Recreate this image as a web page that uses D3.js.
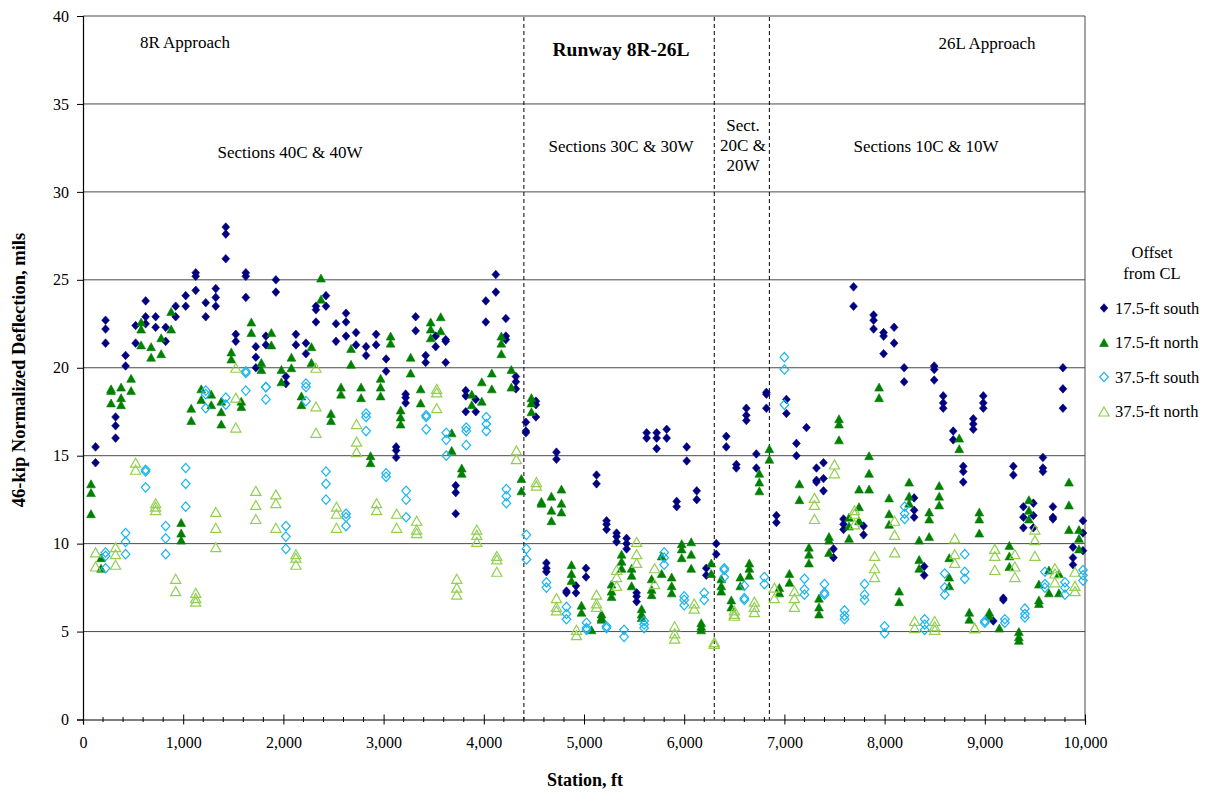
<!DOCTYPE html>
<html>
<head>
<meta charset="utf-8">
<script src="https://cdn.jsdelivr.net/npm/d3@7"></script>
<style>
  body { margin: 0; background: #fff; }
  svg text { font-family: "Liberation Serif", "Times New Roman", serif; fill: #000; }
</style>
</head>
<body>
<svg width="1209" height="792"></svg>
<script>
// 17.5-ft south (filled navy diamonds)
const s175Sta = [125,225,325,425,525,625,725,825,925,1025,1125,1225,1325,1425,1525,1625,1725,1825,1925,2025,
  2125,2225,2325,2425,2525,2625,2725,2825,2925,3025,3125,3220,3320,3420,3520,3620,3720,3820,3920,4020,
  4120,4220,4320,4420,4520,4625,4725,4825,4920,5020,5125,5225,5325,5425,5525,5625,5725,5825,5925,6025,
  6125,6220,6320,6420,6520,6620,6720,6820,6920,7020,7120,7220,7320,7390,7490,7590,7690,7790,7890,7990,
  8095,8195,8295,8395,8495,8585,8685,8785,8885,8985,9085,9185,9285,9385,9485,9580,9680,9780,9880,9980];
const s175Val = [[15.5,14.6],[22.7,22.2,21.4],[17.2,16.7,16.0],[20.7,20.1],[22.4,21.4],[23.8,22.9,22.5],[22.9,22.3],
  [22.3,21.5],[23.5,22.9],[24.1,23.5],[25.4,25.2,24.4],[23.7,22.9],[24.5,24.0,23.5],[28.0,27.6,26.2],[21.9,21.5],
  [25.4,25.2,24.0],[21.2,20.6,20.0],[21.8,21.3],[25.0,24.3],[19.5,19.1],[21.9,21.3],[21.4,20.8],[23.5,23.3,22.6],
  [24.1,23.5],[22.5,21.5],[23.1,22.6,21.8],[22.0,21.3],[21.2,20.7],[21.9,21.3],[20.5,19.8],[15.5,15.3,14.9],
  [18.5,18.3,18.0],[22.9,22.1],[20.7,20.3],[21.8,21.2],[21.6,21.5,20.3],[13.3,12.9,11.7],[18.7,18.4,17.5],
  [18.2,17.5],[23.8,22.6],[25.3,24.3],[22.8,21.8,21.6],[19.5,19.2,18.8],[16.9,16.4,16.3],[18.1,17.9,17.2],
  [8.9,8.6,8.4],[15.2,14.8],[7.3,7.2],[7.6,7.2],[8.6,8.1],[13.9,13.4],[11.3,11.1,10.8],[10.6,10.4,10.1],
  [10.3,10.0,9.7],[7.2,7.0,6.7],[16.3,16.0],[16.3,16.0,15.4],[16.5,16.0],[12.4,12.1],[15.5,14.7],[13.0,12.5],
  [8.6,8.2],[10.0,9.4],[16.1,15.5],[14.5,14.3],[17.7,17.3,17.0],[15.1,14.3],[18.6,18.5,17.7],[11.6,11.2],
  [18.2,17.4],[15.7,15.0],[16.6],[14.3,13.6,13.5],[14.6,13.7,13.0],[9.7,9.2],[11.4,11.1,10.8],[24.6,23.5],
  [11.0,10.5],[23.0,22.7,22.2],[22.0,21.8,20.8],[22.3,21.4],[20.0,19.2],[12.6,11.9,11.5],[8.7,8.2],
  [20.1,19.9,19.3],[18.4,18.0,17.7],[16.4,15.9],[14.4,14.1,13.5],[17.1,16.8,16.5],[18.4,18.0,17.7],[5.6],
  [6.9,6.8],[14.4,13.9],[12.1,11.5,10.9],[12.3,11.6,10.9],[14.9,14.3,14.1],[12.1,11.5,11.4],[20.0,18.8,17.7],
  [9.8,9.2,8.8],[11.3,10.6,9.6]];

// 17.5-ft north (filled green triangles)
const n175Sta = [80,180,280,380,480,580,680,780,880,980,1080,1180,1280,1380,1480,1580,1680,1780,1880,1980,
  2080,2180,2280,2375,2475,2575,2675,2775,2870,2970,3070,3170,3270,3370,3470,3570,3680,3780,3880,3980,
  4080,4175,4275,4375,4475,4575,4675,4775,4875,4975,5075,5175,5275,5375,5475,5575,5675,5775,5875,5975,
  6070,6170,6270,6370,6470,6560,6650,6750,6850,6950,7050,7150,7245,7345,7445,7545,7645,7745,7845,7945,
  8045,8145,8245,8345,8445,8545,8645,8745,8845,8945,9045,9145,9245,9340,9440,9540,9640,9740,9840,9940];
const n175Val = [[13.4,12.9,11.7],[9.2,8.6],[18.8,18.7,18.0],[18.9,18.3,17.9],[19.4,18.7],[22.6,22.2,21.3],
  [21.2,20.6],[21.7,20.8],[23.2,22.2],[11.2,10.6,10.2],[17.7,17.0],[18.8,18.2],[18.5,17.9],[18.1,17.5,16.8],
  [20.9,20.5],[18.1,17.8],[22.6,22.0],[20.3,19.9],[22.0,21.3],[19.9,19.2],[20.6,20.0],[18.4,17.9],[21.2,20.3],
  [25.1,23.9],[17.4,17.0],[18.9,18.5],[21.1,20.2],[18.9,18.3],[15.0,14.6],[19.4,18.9,18.4],[21.8,21.4],
  [17.6,17.2,16.8],[20.6,19.7],[18.8,18.0],[22.6,22.2,21.7],[22.9,22.1],[16.3,15.3],[14.3,14.0],[18.5,17.9],
  [19.2,18.1],[19.7,18.8],[21.8,21.4,20.8],[19.9,18.9],[13.7,13.0],[18.3,18.0,17.5],[12.4,12.3],
  [12.7,11.9,11.3],[13.1,12.3,11.8],[8.8,8.3,7.9],[6.5,6.1],[5.1],[6.0,5.8,5.7],[7.7,7.3,7.0],[9.4,9.0,8.6],
  [8.6,8.2,7.6],[6.3,6.0,5.8],[8.0,7.4,7.1],[9.3,8.3],[8.1,7.6,7.2],[10.0,9.7,9.2],[10.1,9.4,8.6],
  [5.5,5.3,5.1],[8.9,8.3],[8.0,7.6,7.3],[6.8,6.4],[8.1,7.6],[8.9,8.6,8.2],[14.0,13.5,13.0],[15.4,14.8],
  [7.5,7.2],[8.3,7.8],[13.4,12.5],[9.8,9.4,8.9],[6.9,6.4,6.0],[10.4,10.2,9.5],[17.1,16.8,15.9],
  [11.5,11.0,10.3],[13.1,12.1,11.3],[15.0,14.0,13.1],[18.9,18.3],[12.6,11.7,11.1],[7.3,6.7],[13.5,12.7,12.3],
  [10.2,9.1,8.6],[11.8,11.4,10.4],[13.3,12.7,12.2],[9.2,8.1,7.6],[16.0,15.4],[6.1,5.7],[11.8,11.4,10.6],
  [6.1,5.9],[5.2],[9.9,9.3,8.7],[5.0,4.7,4.5],[12.5,11.9,11.4],[7.7,6.8,6.6],[8.5,7.2],[8.3,7.2],
  [13.5,12.2,10.8],[10.8,10.3,9.7]];

// 37.5-ft south (open light blue diamonds)
const s375Sta = [225,425,625,825,1025,1225,1425,1625,1825,2025,2225,2425,2625,2825,3025,3225,3425,3625,3825,4025,
  4225,4425,4625,4825,5025,5225,5400,5600,5800,6000,6200,6400,6600,6800,7000,7200,7400,7600,7800,8000,
  8200,8400,8600,8800,9000,9200,9400,9600,9800,9980];
const s375Val = [[9.5,9.3,8.6],[10.6,10.1,9.4],[14.2,14.1,13.2],[11.0,10.3,9.4],[14.3,13.4,12.1],[18.7,18.5,17.7],
  [18.3,17.9],[19.8,19.7,18.7],[18.9,18.9,18.2],[11.0,10.4,9.7],[19.1,18.9,18.1],[14.1,13.4,12.5],
  [11.7,11.5,11.0],[17.4,17.2,16.4],[14.0,13.8],[13.0,12.5,11.5],[17.3,17.2,16.5],[16.3,15.9,15.0],
  [16.6,16.4,15.6],[17.2,16.8,16.4],[13.1,12.7,12.3],[10.5,9.7,9.1],[7.8,7.5],[6.4,6.0,5.7],[5.5,5.2,5.1],
  [5.3,5.2],[5.1,4.7],[5.6,5.4,5.2],[9.5,9.2,8.8],[7.0,6.8,6.5],[7.2,6.8],[8.6,8.5,8.1],[7.6,6.9,6.8],
  [8.1,7.7],[20.6,19.9,17.9],[8.0,7.4,7.1],[7.7,7.2,7.1],[6.2,5.9,5.7],[7.7,7.1,6.8],[5.3,4.9],
  [12.1,11.7,11.4],[5.7,5.4,5.1],[8.3,7.5,7.1],[9.4,8.4,8.0],[5.6,5.5],[5.7,5.5],[6.3,6.0,5.8],[8.4,7.7,7.5],
  [7.8,7.5,7.1],[8.5,8.2,7.9]];

// 37.5-ft north (open light green triangles)
const n375Sta = [125,325,525,725,925,1125,1325,1525,1725,1925,2125,2325,2530,2730,2930,3130,3330,3530,3730,3930,
  4130,4325,4525,4725,4925,5125,5325,5525,5705,5905,6100,6300,6500,6700,6900,7100,7300,7500,7700,7900,
  8100,8300,8500,8700,8900,9100,9300,9500,9700,9900];
const n375Val = [[9.5,8.7],[9.8,9.4,8.8],[14.6,14.2],[12.3,12.1,11.9],[8.0,7.3],[7.2,6.9,6.7],[11.8,10.9,9.8],
  [20.0,18.3,16.6],[13.0,12.2,11.4],[12.8,12.3,10.9],[9.4,9.2,8.8],[20.0,17.8,16.3],[12.1,11.7,10.9],
  [16.8,15.8,15.2],[12.3,11.9],[11.7,10.9],[11.3,10.8,10.6],[18.8,18.6,17.7],[8.0,7.5,7.1],[10.8,10.5,10.1],
  [9.3,9.1,8.4],[15.3,14.8],[13.5,13.3],[6.9,6.4,6.2],[5.1,4.8],[7.1,6.6,6.4],[8.5,8.1,7.6],[10.1,9.4,8.9],
  [8.6,7.7],[5.3,4.9,4.6],[6.6,6.3],[4.4,4.3],[6.2,6.0,5.9],[6.7,6.4,6.1],[7.5,6.9],[7.3,6.9,6.4],
  [12.6,12.2,11.4],[14.5,14.0],[11.9,11.7,11.1],[9.3,8.6,8.1],[11.3,10.5,9.5],[5.6,5.2],[5.6,5.3,5.1],
  [10.3,9.4,8.9],[5.2,5.2],[9.7,9.3,8.5],[9.4,8.7,8.1],[10.8,10.2,9.3],[8.6,8.3,7.8],[8.4,7.6,7.3]];

const seriesNames = ["17.5-ft south", "17.5-ft north", "37.5-ft south", "37.5-ft north"];
const xTicks = [0,1000,2000,3000,4000,5000,6000,7000,8000,9000,10000];
const yTicks = [0,5,10,15,20,25,30,35,40];
const dividers = [4400, 6300, 6850];

const svg = d3.select("svg");
const plotL = 83, plotR = 1085, plotT = 16, plotB = 719.5;

const x = d3.scaleLinear().domain([0, 10000]).range([plotL, plotR]);
const y = d3.scaleLinear().domain([0, 40]).range([plotB, plotT]);

// marker shapes
const diamond = (w, h) => `M0,${-h}L${w},0L0,${h}L${-w},0Z`;
const triangle = (w, h) => `M0,${-h}L${w},${h}L${-w},${h}Z`;

const styles = [
  { path: diamond(3.9, 4.3), fill: "#000080", stroke: "#000080", sw: 0.6 },
  { path: triangle(4.4, 4.0), fill: "#008000", stroke: "#008000", sw: 0.6 },
  { path: diamond(4.3, 4.7), fill: "none", stroke: "#19B4F2", sw: 1.2 },
  { path: triangle(5.1, 4.5), fill: "none", stroke: "#92D050", sw: 1.2 }
];

// gridlines
svg.append("g").selectAll("line")
  .data(yTicks.filter(d => d > 0))
  .enter().append("line")
  .attr("x1", plotL).attr("x2", plotR)
  .attr("y1", d => y(d)).attr("y2", d => y(d))
  .attr("stroke", "#4a4a4a").attr("stroke-width", 1);

// right border
svg.append("line")
  .attr("x1", plotR).attr("x2", plotR).attr("y1", plotT).attr("y2", plotB)
  .attr("stroke", "#4a4a4a").attr("stroke-width", 1);

// section dividers
svg.append("g").selectAll("line")
  .data(dividers)
  .enter().append("line")
  .attr("x1", d => x(d)).attr("x2", d => x(d))
  .attr("y1", plotT + 1).attr("y2", plotB)
  .attr("stroke", "#000").attr("stroke-width", 1)
  .attr("stroke-dasharray", "4,3");

// axes
const xAxis = d3.axisBottom(x).tickValues(xTicks).tickFormat(d3.format(",")).tickSize(5).tickPadding(12);
const gx = svg.append("g").attr("transform", `translate(0,${plotB})`).call(xAxis);
gx.selectAll(".tick line").attr("y1", -5).attr("y2", 5);
gx.selectAll("text").attr("font-size", "16px");
gx.select(".domain").attr("stroke", "#000").attr("stroke-width", 1.2);

// minor x ticks every 200 ft
svg.append("g").selectAll("line")
  .data(d3.range(200, 10000, 200).filter(d => d % 1000 !== 0))
  .enter().append("line")
  .attr("x1", d => x(d)).attr("x2", d => x(d))
  .attr("y1", plotB - 2.5).attr("y2", plotB + 2.5)
  .attr("stroke", "#000").attr("stroke-width", 1);

const yAxis = d3.axisLeft(y).tickValues(yTicks).tickSize(6).tickPadding(8);
const gy = svg.append("g").attr("transform", `translate(${plotL},0)`).call(yAxis);
gy.selectAll("text").attr("font-size", "16px");
gy.select(".domain").attr("stroke", "#000").attr("stroke-width", 1.2);

// data
const allSeries = [[s175Sta, s175Val], [n175Sta, n175Val], [s375Sta, s375Val], [n375Sta, n375Val]];
allSeries.forEach(([sta, vals], i) => {
  const pts = [];
  sta.forEach((s, k) => (vals[k] || []).forEach(v => pts.push({ s, v })));
  svg.append("g").selectAll("path")
    .data(pts)
    .enter().append("path")
    .attr("d", styles[i].path)
    .attr("transform", d => `translate(${x(d.s)},${y(d.v)})`)
    .attr("fill", styles[i].fill)
    .attr("stroke", styles[i].stroke)
    .attr("stroke-width", styles[i].sw);
});

// annotations
const notes = [
  { t: "8R Approach", x: 185, y: 48 },
  { t: "26L Approach", x: 987, y: 49 },
  { t: "Sections 40C & 40W", x: 290, y: 158 },
  { t: "Sections 30C & 30W", x: 621, y: 152 },
  { t: "Sect.", x: 743, y: 131 },
  { t: "20C &", x: 743, y: 151 },
  { t: "20W", x: 743, y: 171 },
  { t: "Sections 10C & 10W", x: 926, y: 152 }
];
svg.append("g").selectAll("text")
  .data(notes)
  .enter().append("text")
  .attr("x", d => d.x).attr("y", d => d.y)
  .attr("text-anchor", "middle")
  .attr("font-size", "17px")
  .text(d => d.t);

svg.append("text")
  .attr("x", 621).attr("y", 56)
  .attr("text-anchor", "middle")
  .attr("font-size", "19.5px").attr("font-weight", "bold")
  .text("Runway 8R-26L");

// axis titles
svg.append("text")
  .attr("x", 585).attr("y", 786)
  .attr("text-anchor", "middle")
  .attr("font-size", "18px").attr("font-weight", "bold")
  .text("Station, ft");

svg.append("text")
  .attr("transform", `translate(25,370) rotate(-90)`)
  .attr("text-anchor", "middle")
  .attr("font-size", "18.5px").attr("font-weight", "bold")
  .text("46-kip Normalized Deflection, mils");

// legend
const legend = svg.append("g");
legend.append("text").attr("x", 1152).attr("y", 258).attr("text-anchor", "middle")
  .attr("font-size", "16.5px").text("Offset");
legend.append("text").attr("x", 1152).attr("y", 279).attr("text-anchor", "middle")
  .attr("font-size", "16.5px").text("from CL");

const items = legend.selectAll(".item")
  .data(seriesNames)
  .enter().append("g")
  .attr("class", "item")
  .attr("transform", (d, i) => `translate(1104,${308 + i * 34.5})`);
items.append("path")
  .attr("d", (d, i) => styles[i].path)
  .attr("fill", (d, i) => styles[i].fill)
  .attr("stroke", (d, i) => styles[i].stroke)
  .attr("stroke-width", (d, i) => styles[i].sw);
items.append("text")
  .attr("x", 11).attr("y", 5.5)
  .attr("font-size", "16.5px")
  .text(d => d);
</script>
</body>
</html>
